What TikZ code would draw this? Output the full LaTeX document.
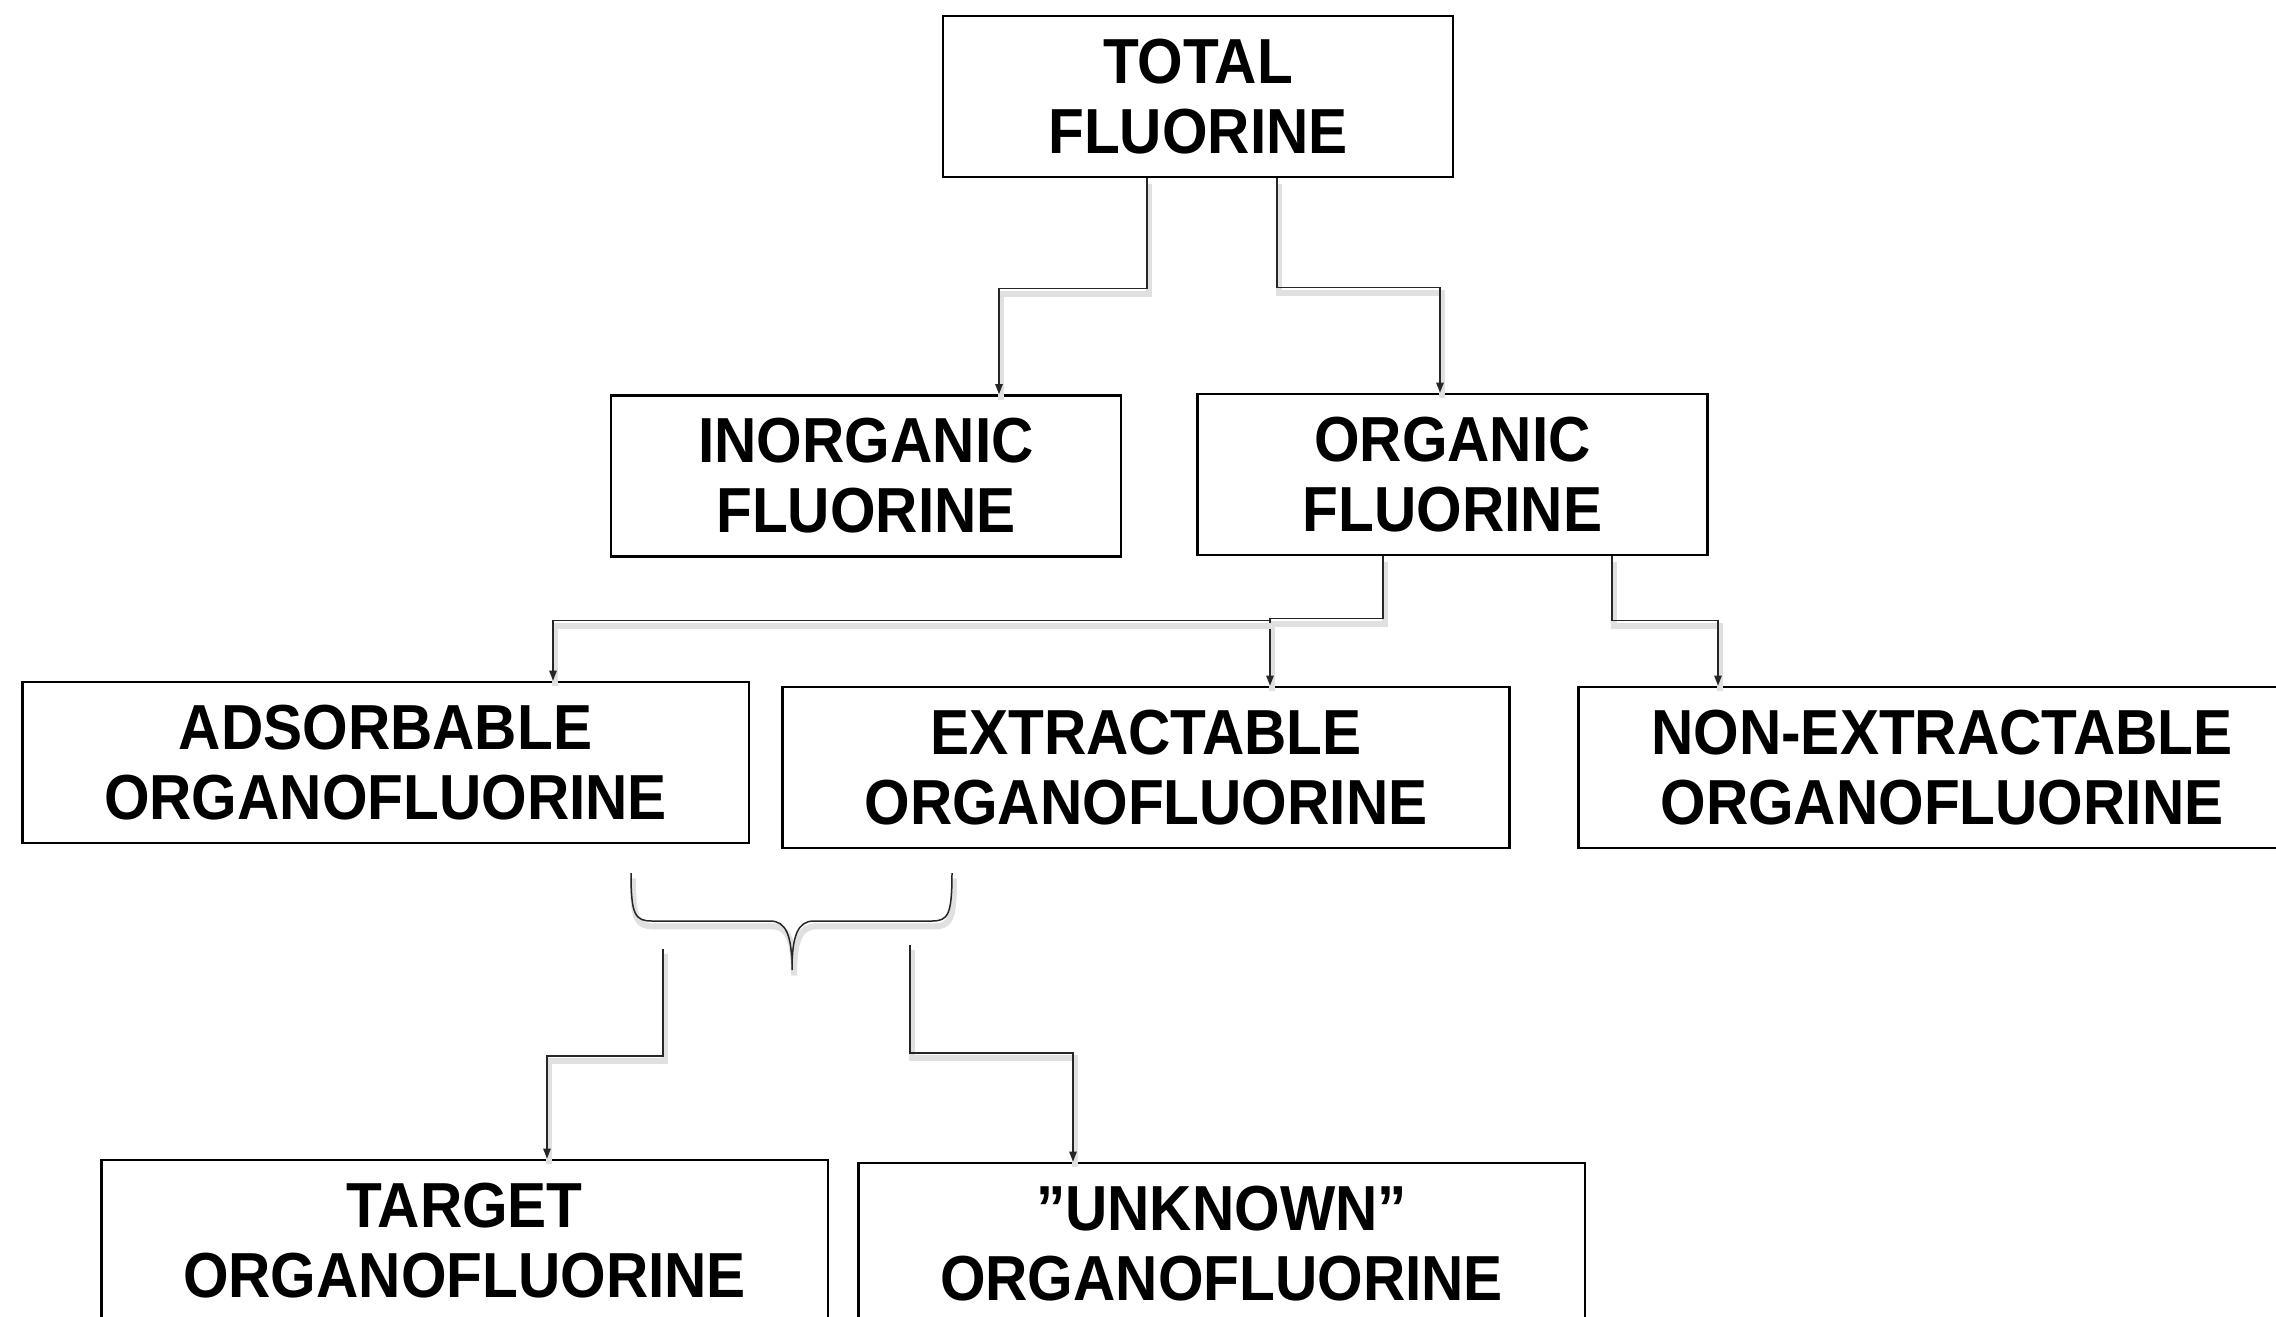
\documentclass[tikz,border=0pt]{standalone}
\usepackage{fontspec}
\setmainfont[FakeStretch=0.92]{Liberation Sans}
\usetikzlibrary{calc,arrows.meta}
\begin{document}
\begin{tikzpicture}[x=0.3pt,y=-0.3pt,
  box/.style={draw=black,line width=0.8pt,rectangle,inner sep=0pt,
    minimum width=218pt,minimum height=48.3pt,align=center,
    font=\fontsize{19.1pt}{21pt}\selectfont\bfseries},
  shad/.style={preaction={draw=black!12,line width=1.8pt,-,
    transform canvas={shift={(0.6pt,-1.6pt)}}}},
  conn/.style={draw=black!85,line width=0.45pt,shad},
  arr/.style={conn,-{Triangle[length=3pt,width=2.2pt]}}]
\useasboundingbox (0,0) rectangle (2276,1317);
\clip (0,0) rectangle (2276,1317);
\fill[white] (0,0) rectangle (2276,1317);

\node[box,minimum width=153pt] (total) at (1198,96.5) {TOTAL\\FLUORINE};
\node[box,minimum width=153pt] (inorg) at (866,476) {INORGANIC\\FLUORINE};
\node[box,minimum width=153pt] (org) at (1452.5,474.5) {ORGANIC\\FLUORINE};
\node[box] (ads) at (385.5,762.5) {ADSORBABLE\\ORGANOFLUORINE};
\node[box] (ext) at (1146,767.5) {EXTRACTABLE\\ORGANOFLUORINE};
\node[box] (nonext) at (1942,767.5) {NON-EXTRACTABLE\\ORGANOFLUORINE};
\node[box] (target) at (464.5,1240.5) {TARGET\\ORGANOFLUORINE};
\node[box] (unknown) at (1221.5,1243.5) {”UNKNOWN”\\ORGANOFLUORINE};

% total -> inorganic / organic
\draw[arr] ($(total.south)+(-51,0)$) -- ++(0,110) -| ($(inorg.north)+(133,0)$);
\draw[arr] ($(total.south)+(79,0)$) -- ++(0,109) -| ($(org.north)+(-12.5,0)$);

% organic -> children
\draw[arr] ($(org.south)+(-69.5,0)$) -- ++(0,62) -| ($(ext.north)+(124,0)$);
\coordinate (branch) at ($(ext.north)+(124,-65)$);
\draw[arr] (branch) -| ($(ads.north)+(167.5,0)$);
\draw[arr] ($(org.south)+(159.5,0)$) -- ++(0,64) -| ($(nonext.north)+(-224,0)$);

% brace
\draw[conn] (631,873) .. controls (631,915) and (635,921) .. (652,921) -- (770,921)
  .. controls (786,921) and (792,935) .. (792,970);
\draw[conn] (952,873) .. controls (952,915) and (948,921) .. (932,921) -- (814,921)
  .. controls (798,921) and (792,935) .. (792,970);

% brace -> target / unknown
\coordinate (lstart) at (663,949);
\coordinate (rstart) at (910,945);
\draw[arr] (lstart) -- ++(0,107) -| ($(target.north)+(82.5,0)$);
\draw[arr] (rstart) -- ++(0,108) -| ($(unknown.north)+(-148.5,0)$);
\end{tikzpicture}
\end{document}
